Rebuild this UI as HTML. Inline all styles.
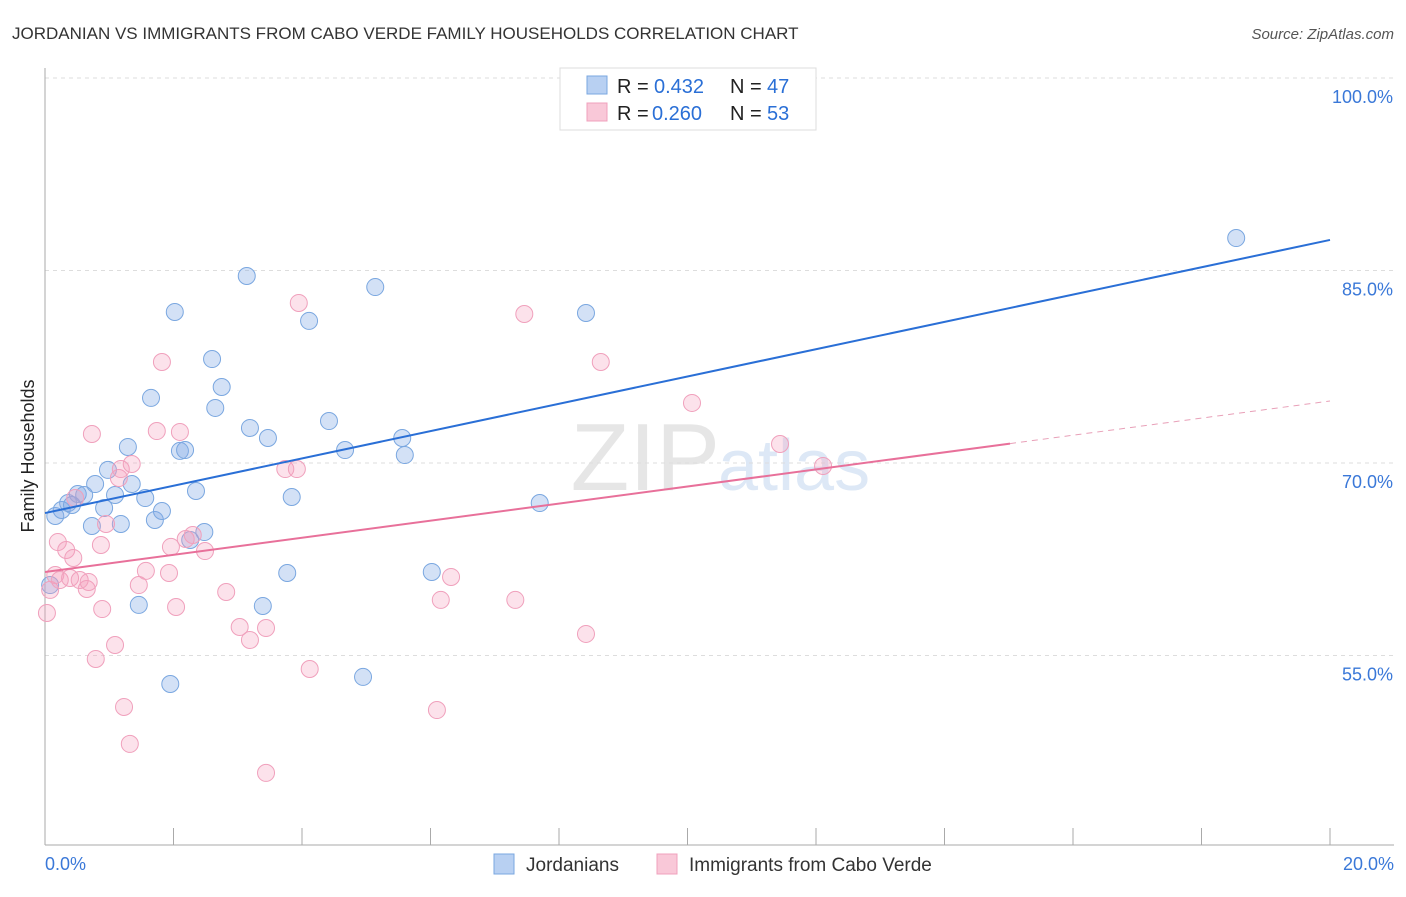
<!DOCTYPE html>
<html><head><meta charset="utf-8"><style>
body{margin:0;background:#fff;font-family:"Liberation Sans",sans-serif;}
svg text{font-family:"Liberation Sans",sans-serif;}
</style></head><body>
<svg id="chart" width="1406" height="892">
<text x="12" y="39" font-size="17" fill="#333">JORDANIAN VS IMMIGRANTS FROM CABO VERDE FAMILY HOUSEHOLDS CORRELATION CHART</text>
<text x="1394" y="39" font-size="15" fill="#555" font-style="italic" text-anchor="end">Source: ZipAtlas.com</text>
<text x="720" y="490" font-size="96" fill="#e6e6e6" font-family="Liberation Serif" text-anchor="end">ZIP</text>
<text x="718" y="490" font-size="72" fill="#dde8f6">atlas</text>
<g id="grid"></g><g id="axes"></g><g id="marks"></g>
<text transform="translate(34,456) rotate(-90)" font-size="18" fill="#222" text-anchor="middle">Family Households</text>
<g>
<rect x="560" y="68" width="256" height="62" fill="#fff" stroke="#ddd"/>
<rect x="587" y="76" width="20" height="18" fill="#b8d0f2" stroke="#7aa7e0"/>
<rect x="587" y="103" width="20" height="18" fill="#f9c8d8" stroke="#f0a0bc"/>
<text x="617" y="93" font-size="20" fill="#222">R =</text>
<text x="654" y="93" font-size="20" fill="#2a6fd6">0.432</text>
<text x="730" y="93" font-size="20" fill="#222">N =</text>
<text x="767" y="93" font-size="20" fill="#2a6fd6">47</text>
<text x="617" y="120" font-size="20" fill="#222">R =</text>
<text x="652" y="120" font-size="20" fill="#2a6fd6">0.260</text>
<text x="730" y="120" font-size="20" fill="#222">N =</text>
<text x="767" y="120" font-size="20" fill="#2a6fd6">53</text>
</g>
<g>
<rect x="494" y="854" width="20" height="20" fill="#b8d0f2" stroke="#7aa7e0"/>
<text x="526" y="871" font-size="19" fill="#333">Jordanians</text>
<rect x="657" y="854" width="20" height="20" fill="#f9c8d8" stroke="#f0a0bc"/>
<text x="689" y="871" font-size="19" fill="#333">Immigrants from Cabo Verde</text>
</g>
</svg>
<script>
const yTicks=[55,70,85,100];
const yTickLabels=["55.0%","70.0%","85.0%","100.0%"];
const xTickLabels=["0.0%","20.0%"];
const blueX=[0.16,0.26,0.36,0.42,0.51,0.61,0.78,0.73,0.92,0.98,1.09,1.18,1.29,1.35,1.46,1.56,1.65,1.71,1.82,1.95,2.02,2.10,2.18,2.26,2.35,2.48,2.60,2.65,2.75,3.14,3.19,3.39,3.47,3.77,3.84,4.11,4.42,4.67,4.95,5.14,5.56,5.60,6.02,7.70,8.42,18.54,0.08];
const blueY=[65.87,66.34,66.88,66.73,67.58,67.51,68.36,65.09,66.49,69.46,67.51,65.25,71.25,68.36,58.94,67.27,75.07,65.56,66.26,52.78,81.77,70.94,71.01,64.00,67.82,64.62,78.10,74.29,75.92,84.57,72.73,58.86,71.95,61.43,67.35,81.07,73.27,71.01,53.33,83.71,71.95,70.62,61.51,66.88,81.69,87.53,60.49];
const pinkX=[0.03,0.08,0.16,0.20,0.23,0.33,0.39,0.44,0.47,0.54,0.65,0.68,0.73,0.79,0.87,0.89,0.95,1.09,1.15,1.18,1.23,1.32,1.35,1.46,1.57,1.74,1.82,1.93,1.96,2.04,2.10,2.19,2.30,2.49,2.82,3.03,3.19,3.44,3.44,3.74,3.92,3.95,4.12,6.10,6.16,6.32,7.32,7.46,8.42,8.65,10.07,11.44,12.11];
const pinkY=[58.31,60.11,61.27,63.84,60.88,63.22,61.04,62.60,67.27,60.88,60.18,60.73,72.26,54.73,63.61,58.62,65.25,55.82,68.83,69.53,50.99,48.11,69.92,60.49,61.59,72.49,77.87,61.43,63.46,58.78,72.42,64.08,64.39,63.14,59.95,57.22,56.21,57.14,45.85,69.53,69.53,82.47,53.95,50.75,59.33,61.12,59.33,81.61,56.68,77.87,74.68,71.48,69.77];
const blueTrend=[66.1,87.38];
const pinkTrend=[61.51,74.83];
const pinkSolidEnd=15.02;
const X=v=>45+v/20*1285;
const Y=v=>78+(100-v)/15*192.5;
const NS="http://www.w3.org/2000/svg";
function mk(parent,tag,attrs){const e=document.createElementNS(NS,tag);for(const k in attrs)e.setAttribute(k,attrs[k]);document.getElementById(parent).appendChild(e);return e;}
yTicks.forEach((t,i)=>{
  const l=mk('grid','line',{x1:45,x2:1394,y1:Y(t),y2:Y(t),stroke:'#ddd','stroke-dasharray':'4,4'});
  
  
  const tx=mk('grid','text',{x:1393,y:Y(t)+25,'font-size':18,fill:'#3a78d8','text-anchor':'end'});
  tx.textContent=yTickLabels[i];
  
  
});
let a=mk('axes','line',{x1:45,x2:45,y1:68,y2:845,stroke:'#aaa'});


a=mk('axes','line',{x1:45,x2:1394,y1:845,y2:845,stroke:'#aaa'});


for(let i=0;i<=10;i++){
  const t=mk('axes','line',{x1:X(i*2),x2:X(i*2),y1:828,y2:845,stroke:'#aaa'});
  
  
}
[[0,'start',45],[20,'end',1394]].forEach((d,i)=>{
  const t=mk('axes','text',{x:d[2],y:870,'font-size':18,fill:'#3a78d8','text-anchor':d[1]});
  t.textContent=xTickLabels[i];
  
  
});
blueX.forEach((x,i)=>{
  const c=mk('marks','circle',{cx:X(x),cy:Y(blueY[i]),r:8.5,fill:'rgba(130,170,230,0.35)',stroke:'#7aa7e0','stroke-width':1});
  
  
});
pinkX.forEach((x,i)=>{
  const c=mk('marks','circle',{cx:X(x),cy:Y(pinkY[i]),r:8.5,fill:'rgba(245,160,190,0.3)',stroke:'#f0a0bc','stroke-width':1});
  
  
});
let l=mk('marks','line',{x1:X(0),y1:Y(blueTrend[0]),x2:X(20),y2:Y(blueTrend[1]),stroke:'#2a6fd6','stroke-width':2});


const pm=(pinkTrend[1]-pinkTrend[0])/20;
l=mk('marks','line',{x1:X(0),y1:Y(pinkTrend[0]),x2:X(pinkSolidEnd),y2:Y(pinkTrend[0]+pm*pinkSolidEnd),stroke:'#e8709a','stroke-width':2});


l=mk('marks','line',{x1:X(pinkSolidEnd),y1:Y(pinkTrend[0]+pm*pinkSolidEnd),x2:X(20),y2:Y(pinkTrend[1]),stroke:'#e8a0b8','stroke-width':1,'stroke-dasharray':'6,5'});


</script>
</body></html>
